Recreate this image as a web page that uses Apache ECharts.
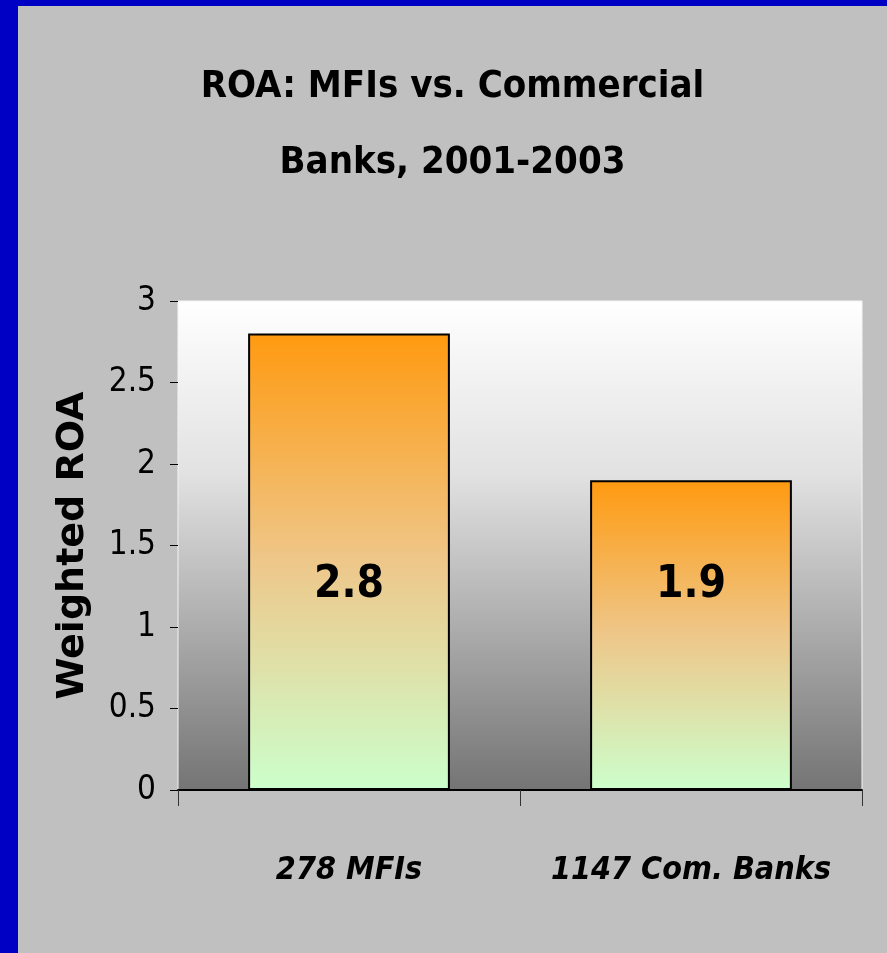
<!DOCTYPE html>
<html>
<head>
<meta charset="utf-8">
<title>ROA: MFIs vs. Commercial Banks</title>
<script src="https://cdn.jsdelivr.net/npm/echarts@6/dist/echarts.min.js"></script>
<style>
  html, body {
    margin: 0;
    padding: 0;
    width: 887px;
    height: 953px;
    background-color: #0000c4;
    overflow: hidden;
  }
  #panel {
    position: absolute;
    left: 18px;
    top: 6px;
    width: 869px;
    height: 947px;
    background-color: #c0c0c0;
  }
</style>
</head>
<body>
<div id="panel"></div>
<script>
// data
const titleLines = ['ROA: MFIs vs. Commercial', 'Banks, 2001-2003']
const categories = ['278 MFIs', '1147 Com. Banks']
const roaValues = [2.8, 1.9]
const yTicks = [0, 0.5, 1, 1.5, 2, 2.5, 3]
const yAxisTitle = 'Weighted ROA'

const narrow = '"DejaVu Sans Condensed", "Liberation Sans Narrow", "Arial Narrow", sans-serif'
const wide = '"DejaVu Sans", "Liberation Sans", Arial, sans-serif'

const chart = echarts.init(document.getElementById('panel'))

const option = {
  backgroundColor: '#c0c0c0',
  animation: false,
  title: {
    text: titleLines.join('\n'),
    left: 'center',
    top: 38,
    textStyle: {
      fontFamily: narrow,
      fontWeight: 'bold',
      fontSize: 38,
      lineHeight: 76,
      color: '#000'
    }
  },
  grid: {
    left: 160,
    right: 25,
    top: 295,
    bottom: 163,
    show: true,
    borderWidth: 1,
    borderColor: '#f4f4f4',
    // 白到深灰的背景
    backgroundColor: new echarts.graphic.LinearGradient(0, 0, 0, 1, [
      { offset: 0, color: '#ffffff' },
      { offset: 0.35, color: '#e2e2e2' },
      { offset: 1, color: '#747474' }
    ])
  },
  xAxis: {
    type: 'category',
    data: categories,
    axisLine: { lineStyle: { color: '#000', width: 2 } },
    axisTick: { show: true, interval: 0, length: 16, lineStyle: { color: '#333', width: 1 } },
    axisLabel: {
      interval: 0,
      margin: 65,
      fontFamily: narrow,
      fontWeight: 'bold',
      fontStyle: 'italic',
      fontSize: 32,
      color: '#000'
    }
  },
  yAxis: {
    type: 'value',
    min: yTicks[0],
    max: yTicks[yTicks.length - 1],
    interval: 0.5,
    name: yAxisTitle,
    nameLocation: 'middle',
    nameRotate: 90,
    nameGap: 86,
    nameTextStyle: {
      fontFamily: wide,
      fontWeight: 'bold',
      fontSize: 38,
      color: '#000'
    },
    axisLine: { show: false },
    axisTick: { show: true, length: 8, lineStyle: { color: '#000', width: 1 } },
    splitLine: { show: false },
    axisLabel: {
      margin: 22,
      fontFamily: narrow,
      fontSize: 33,
      color: '#000',
      formatter: function (v) { return String(v) }
    }
  },
  series: [
    {
      type: 'bar',
      data: roaValues,
      barCategoryGap: '41%',
      itemStyle: {
        borderColor: '#000',
        borderWidth: 2,
        color: new echarts.graphic.LinearGradient(0, 0, 0, 1, [
          { offset: 0, color: '#ff9a10' },
          { offset: 0.5, color: '#eec78a' },
          { offset: 1, color: '#ccffcc' }
        ])
      },
      label: {
        show: true,
        position: 'insideBottom',
        distance: 182,
        fontFamily: narrow,
        fontWeight: 'bold',
        fontSize: 44,
        color: '#000'
      }
    }
  ]
}

chart.setOption(option)
</script>
</body>
</html>
